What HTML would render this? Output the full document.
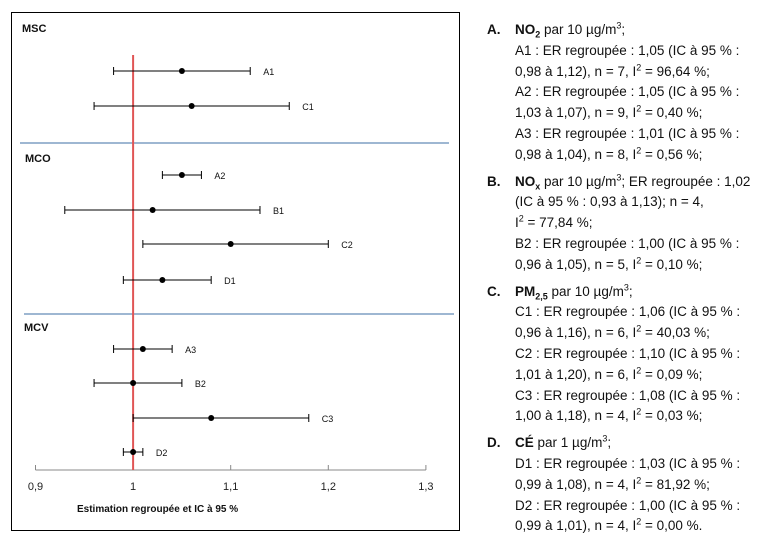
<!DOCTYPE html>
<html><head><meta charset="utf-8"><style>
body{margin:0;background:#fff;width:769px;height:539px;overflow:hidden;position:relative;font-family:"Liberation Sans",sans-serif;}
.t{position:absolute;font-size:13.5px;color:#111;white-space:nowrap;line-height:16px;}
.b{font-weight:bold;}
sub,sup{font-size:9px;line-height:0;}
</style></head><body>
<svg width="769" height="539" style="position:absolute;left:0;top:0" font-family="Liberation Sans, sans-serif">
<rect x="11.5" y="12.5" width="448" height="518" fill="none" stroke="#000" stroke-width="1"/>
<g id="plot"></g>
</svg>
<div id="txt"></div>
<script>
const labels=["A1","C1","A2","B1","C2","D1","A3","B2","C3","D2"];
const est=[1.05,1.06,1.05,1.02,1.10,1.03,1.01,1.00,1.08,1.00];
const lo=[0.98,0.96,1.03,0.93,1.01,0.99,0.98,0.96,1.00,0.99];
const hi=[1.12,1.16,1.07,1.13,1.20,1.08,1.04,1.05,1.18,1.01];
const rowY=[71,106,175,210,244,280,349,383,418,452];
const ticks=[0.9,1.0,1.1,1.2,1.3];
const tickLabels=["0,9","1","1,1","1,2","1,3"];
const x=v=>35.5+(v-0.9)*976;
const ns="http://www.w3.org/2000/svg";
const g=document.getElementById('plot');
function mk(t,a,txt){const e=document.createElementNS(ns,t);for(const k in a)e.setAttribute(k,a[k]);if(txt!==undefined)e.textContent=txt;g.appendChild(e);return e;}
let e;
e=mk('line',{x1:20,y1:143,x2:449,y2:143,stroke:'#7f9fc4','stroke-width':1.5});


e=mk('line',{x1:24,y1:314,x2:454,y2:314,stroke:'#7f9fc4','stroke-width':1.5});


[["MSC",22,32],["MCO",25,162],["MCV",24,331]].forEach(d=>{e=mk('text',{x:d[1],y:d[2],'font-size':11,'font-weight':'bold',fill:'#111'},d[0]);

});
e=mk('line',{x1:x(0.9),y1:470,x2:x(1.3),y2:470,stroke:'#888','stroke-width':1});


ticks.forEach((t,i)=>{e=mk('line',{x1:x(t),y1:465,x2:x(t),y2:470,stroke:'#888'});


e=mk('text',{x:x(t),y:490,'font-size':11,'text-anchor':'middle',fill:'#222'},tickLabels[i]);

});
e=mk('text',{x:77,y:512,'font-size':10,'font-weight':'bold',fill:'#111'},"Estimation regroupée et IC à 95 %");


e=mk('line',{x1:x(1),y1:55,x2:x(1),y2:470,stroke:'#e05555','stroke-width':2});


labels.forEach((l,i)=>{const y=rowY[i];
e=mk('line',{x1:x(lo[i]),y1:y,x2:x(hi[i]),y2:y,stroke:'#000','stroke-width':1});


[lo[i],hi[i]].forEach(v=>{e=mk('line',{x1:x(v),y1:y-4,x2:x(v),y2:y+4,stroke:'#000'});

});
e=mk('circle',{cx:x(est[i]),cy:y,r:3,fill:'#000'});


e=mk('text',{x:x(hi[i])+13,y:y+4,'font-size':9,fill:'#111'},l);

});

// text panel
const sections=[
 ["A.",["<b>NO<sub>2</sub></b> par 10 µg/m<sup>3</sup>;","A1 : ER regroupée : 1,05 (IC à 95 % :","0,98 à 1,12), n = 7, I<sup>2</sup> = 96,64 %;","A2 : ER regroupée : 1,05 (IC à 95 % :","1,03 à 1,07), n = 9, I<sup>2</sup> = 0,40 %;","A3 : ER regroupée : 1,01 (IC à 95 % :","0,98 à 1,04), n = 8, I<sup>2</sup> = 0,56 %;"]],
 ["B.",["<b>NO<sub>x</sub></b> par 10 µg/m<sup>3</sup>; ER regroupée : 1,02","(IC à 95 % : 0,93 à 1,13); n = 4,","I<sup>2</sup> = 77,84 %;","B2 : ER regroupée : 1,00 (IC à 95 % :","0,96 à 1,05), n = 5, I<sup>2</sup> = 0,10 %;"]],
 ["C.",["<b>PM<sub>2,5</sub></b> par 10 µg/m<sup>3</sup>;","C1 : ER regroupée : 1,06 (IC à 95 % :","0,96 à 1,16), n = 6, I<sup>2</sup> = 40,03 %;","C2 : ER regroupée : 1,10 (IC à 95 % :","1,01 à 1,20), n = 6, I<sup>2</sup> = 0,09 %;","C3 : ER regroupée : 1,08 (IC à 95 % :","1,00 à 1,18), n = 4, I<sup>2</sup> = 0,03 %;"]],
 ["D.",["<b>CÉ</b> par 1 µg/m<sup>3</sup>;","D1 : ER regroupée : 1,03 (IC à 95 % :","0,99 à 1,08), n = 4, I<sup>2</sup> = 81,92 %;","D2 : ER regroupée : 1,00 (IC à 95 % :","0,99 à 1,01), n = 4, I<sup>2</sup> = 0,00 %."]]
];
const txt=document.getElementById('txt');
let cy=30;
sections.forEach(s=>{
 const h=document.createElement('div');h.className='t b';h.style.left='487px';h.style.top=(cy-8)+'px';h.textContent=s[0];
 
 
 txt.appendChild(h);
 s[1].forEach(line=>{const d=document.createElement('div');d.className='t';d.style.left='515px';d.style.top=(cy-8)+'px';d.innerHTML=line;
 
 
 txt.appendChild(d);cy+=20.8;});
 cy+=6;
});
</script>
</body></html>
